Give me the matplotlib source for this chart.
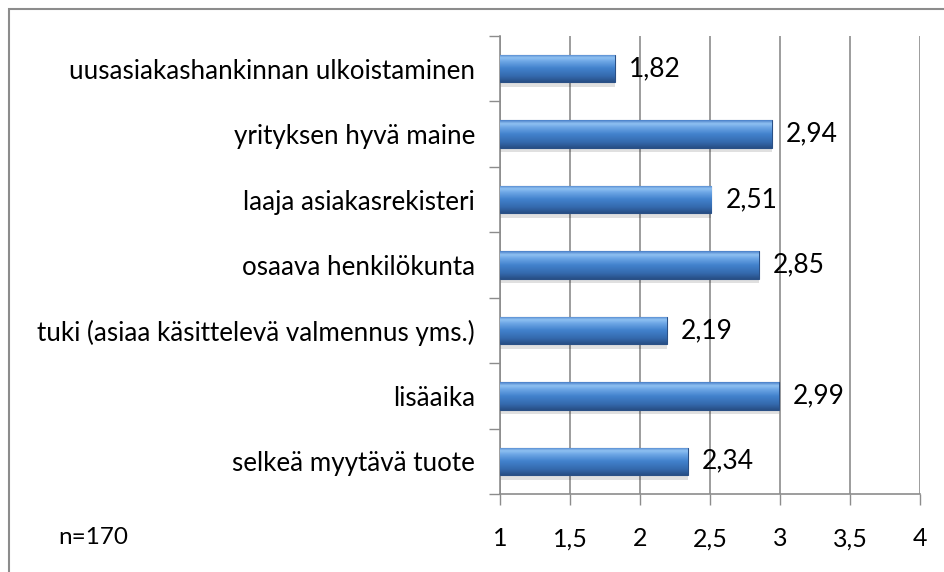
import numpy as np
import matplotlib
matplotlib.use('Agg')
import matplotlib.pyplot as plt
from matplotlib.colors import LinearSegmentedColormap
from matplotlib.patches import Rectangle

#=========================================================================
categories = ['uusasiakashankinnan ulkoistaminen',
              'yrityksen hyvä maine',
              'laaja asiakasrekisteri',
              'osaava henkilökunta',
              'tuki (asiaa käsittelevä valmennus yms.)',
              'lisäaika',
              'selkeä myytävä tuote']
values = [1.82, 2.94, 2.51, 2.85, 2.19, 2.99, 2.34]
value_labels = ['1,82', '2,94', '2,51', '2,85', '2,19', '2,99', '2,34']
xticks = [1, 1.5, 2, 2.5, 3, 3.5, 4]
xtick_labels = ['1', '1,5', '2', '2,5', '3', '3,5', '4']
note = 'n=170'

plt.rcParams['font.family'] = ['Lato', 'DejaVu Sans']

W, H = 944, 572
fig = plt.figure(figsize=(W/100, H/100), dpi=100)
ax = fig.add_axes([500/W, 1-494/H, 420/W, 458/H])

# outer frame (cut off at right and bottom)
fig.patches.append(Rectangle((9/W, -0.1), 1.2, 1-9/H+0.1, transform=fig.transFigure,
                             fill=False, edgecolor='#8c8c8c', linewidth=1.5))

y = np.arange(len(categories))
xmin = xticks[0]
widths = [v - xmin for v in values]

# shadow
ax.barh(y + 0.07, widths, left=xmin, height=0.42, color='#000000', alpha=0.12,
        zorder=2, linewidth=0)
bars = ax.barh(y, widths, left=xmin, height=0.42, color='#3f7cc6',
               edgecolor='#2a5086', linewidth=0.8, zorder=3)

cmap = LinearSegmentedColormap.from_list('bevel', [
    (0.0, '#4a80c8'), (0.12, '#8fc1f2'), (0.25, '#6ea7e6'),
    (0.5, '#4282cd'), (0.8, '#3469ad'), (1.0, '#284f85')])
grad = np.linspace(0, 1, 64).reshape(-1, 1)
for b in bars:
    x0, y0 = b.get_x(), b.get_y()
    im = ax.imshow(grad, cmap=cmap, aspect='auto', zorder=3.5,
                   extent=[x0, x0 + b.get_width(), y0 + b.get_height(), y0],
                   interpolation='bilinear')
    im.set_clip_path(b)

for yi, v, lab in zip(y, values, value_labels):
    ax.annotate(lab, (v, yi), xytext=(10, 0), textcoords='offset points',
                va='center', ha='left', fontsize=19, color='black')

ax.set_xlim(xticks[0], xticks[-1])
ax.set_ylim(len(categories) - 0.5, -0.5)
ax.set_xticks(xticks)
ax.set_xticklabels(xtick_labels, fontsize=18)
ax.set_yticks(y)
ax.set_yticklabels(categories, fontsize=18.7)
ax.set_yticks(np.arange(len(categories) + 1) - 0.5, minor=True)
ax.tick_params(axis='y', which='major', length=0, pad=18)
ax.tick_params(axis='y', which='minor', length=8, color='#8c8c8c', width=1)
ax.tick_params(axis='x', length=8, color='#8c8c8c', width=1, pad=16)

ax.grid(axis='x', color='#8c8c8c', linewidth=1.2, zorder=0)
ax.set_axisbelow(True)
for s in ['top', 'right']:
    ax.spines[s].set_visible(False)
for s in ['left', 'bottom']:
    ax.spines[s].set_color('#8c8c8c')
    ax.spines[s].set_linewidth(1.2)

fig.text(58/W, 1-537/H, note, fontsize=17.5, ha='left', va='center')

fig.savefig('out.png', dpi=100)
